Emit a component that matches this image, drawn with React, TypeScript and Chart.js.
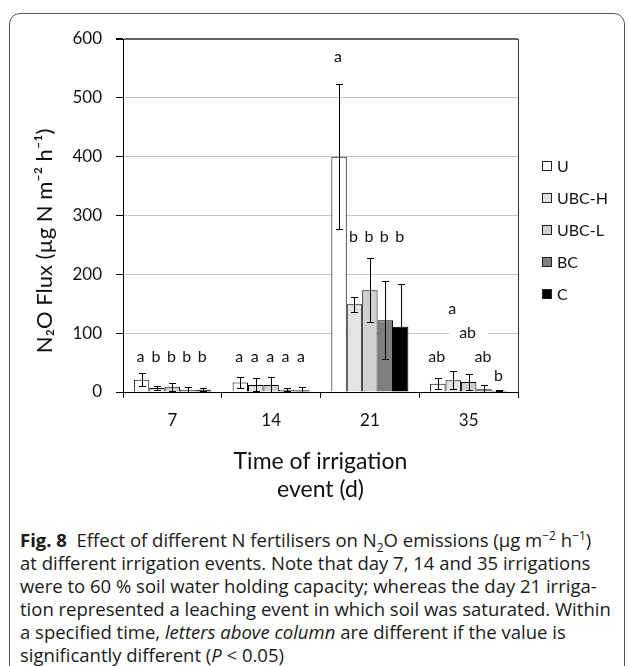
import React, { useEffect, useRef } from 'react';
import { Chart, registerables } from 'chart.js';

Chart.register(...registerables);

// ---- data ----
const days = ['7', '14', '21', '35'];
const seriesNames = ['U', 'UBC-H', 'UBC-L', 'BC', 'C'];
const seriesColors = ['#ffffff', '#e3e3e3', '#d0d0d0', '#7f7f7f', '#000000'];

const valuesU = [21, 16, 400, 14];
const valuesUBCH = [7, 12, 149, 20];
const valuesUBCL = [9, 12, 173, 17];
const valuesBC = [4, 4, 122, 4.5];
const valuesC = [4, 3, 111, 2];

const errorsU = [11, 9, 123, 9];
const errorsUBCH = [3, 11, 13, 15];
const errorsUBCL = [7, 13, 54, 14];
const errorsBC = [4.5, 2, 66, 7];
const errorsC = [2, 5, 72, 1];

const lettersU = ['a', 'a', 'a', 'ab'];
const lettersUBCH = ['b', 'a', 'b', 'a'];
const lettersUBCL = ['b', 'a', 'b', 'ab'];
const lettersBC = ['b', 'a', 'b', 'ab'];
const lettersC = ['b', 'a', 'b', 'b'];

const letterHeightsU = [59, 59, 569, 59];
const letterHeightsUBCH = [59, 59, 263, 142];
const letterHeightsUBCL = [59, 59, 263, 100];
const letterHeightsBC = [59, 59, 263, 59];
const letterHeightsC = [59, 59, 263, 27];

const yTicks = [0, 100, 200, 300, 400, 500, 600];

const allValues = [valuesU, valuesUBCH, valuesUBCL, valuesBC, valuesC];
const allErrors = [errorsU, errorsUBCH, errorsUBCL, errorsBC, errorsC];
const allLetters = [lettersU, lettersUBCH, lettersUBCL, lettersBC, lettersC];
const allLetterHeights = [letterHeightsU, letterHeightsUBCH, letterHeightsUBCL, letterHeightsBC, letterHeightsC];

const FONT = 'Lato, "Open Sans", sans-serif';

const annotationPlugin = {
  id: 'annotations',
  afterDatasetsDraw(chart: any) {
    const ctx = chart.ctx;
    const y = chart.scales.y;
    ctx.save();
    ctx.font = `16px ${FONT}`;
    ctx.textAlign = 'center';
    ctx.textBaseline = 'middle';
    const tickPixels = yTicks.map((t) => y.getPixelForValue(t));
    // white label boxes where a letter sits on a gridline
    chart.data.datasets.forEach((ds: any, i: number) => {
      const meta = chart.getDatasetMeta(i);
      meta.data.forEach((bar: any, j: number) => {
        const txt = allLetters[i][j];
        const py = y.getPixelForValue(allLetterHeights[i][j]);
        if (tickPixels.some((tp: number) => Math.abs(tp - py) < 9)) {
          const w = ctx.measureText(txt).width;
          ctx.fillStyle = '#ffffff';
          ctx.fillRect(bar.x - w / 2 - 11, py - 8, w + 22, 16);
        }
      });
    });
    // letters above columns
    ctx.fillStyle = '#111111';
    chart.data.datasets.forEach((ds: any, i: number) => {
      const meta = chart.getDatasetMeta(i);
      meta.data.forEach((bar: any, j: number) => {
        const py = y.getPixelForValue(allLetterHeights[i][j]);
        ctx.fillText(allLetters[i][j], bar.x - 1, py);
      });
    });
    // error bars
    ctx.strokeStyle = '#000000';
    ctx.lineWidth = 1;
    chart.data.datasets.forEach((ds: any, i: number) => {
      const meta = chart.getDatasetMeta(i);
      meta.data.forEach((bar: any, j: number) => {
        const v = allValues[i][j];
        const e = allErrors[i][j];
        const yt = Math.round(y.getPixelForValue(v + e)) + 0.5;
        const yb = Math.round(y.getPixelForValue(Math.max(v - e, 0))) + 0.5;
        const x = Math.round(bar.x) + 0.5;
        ctx.beginPath();
        ctx.moveTo(x, yt);
        ctx.lineTo(x, yb);
        ctx.moveTo(x - 3.5, yt);
        ctx.lineTo(x + 3.5, yt);
        ctx.moveTo(x - 3.5, yb);
        ctx.lineTo(x + 3.5, yb);
        ctx.stroke();
      });
    });
    ctx.restore();
  },
  afterDraw(chart: any) {
    const ctx = chart.ctx;
    const area = chart.chartArea;
    ctx.save();
    // right frame line
    ctx.strokeStyle = '#333333';
    ctx.lineWidth = 1;
    ctx.beginPath();
    ctx.moveTo(Math.round(area.right) + 0.5, area.top);
    ctx.lineTo(Math.round(area.right) + 0.5, area.bottom);
    ctx.stroke();
    // legend
    ctx.font = `16px ${FONT}`;
    ctx.textAlign = 'left';
    ctx.textBaseline = 'middle';
    chart.data.datasets.forEach((ds: any, i: number) => {
      const cy = area.top + 127 + i * 32;
      const bx = Math.round(area.right) + 24;
      ctx.fillStyle = ds.backgroundColor;
      ctx.fillRect(bx, Math.round(cy) - 5, 10, 10);
      ctx.strokeStyle = '#222222';
      ctx.strokeRect(bx + 0.5, Math.round(cy) - 4.5, 9, 9);
      ctx.fillStyle = '#111111';
      ctx.fillText(ds.label, bx + 15, cy + 1);
    });
    ctx.restore();
  },
};

function BarChart() {
  const ref = useRef<HTMLCanvasElement>(null);
  useEffect(() => {
    if (!ref.current) return;
    const chart = new Chart(ref.current, {
      type: 'bar',
      data: {
        labels: days,
        datasets: seriesNames.map((name, i) => ({
          label: name,
          data: allValues[i],
          backgroundColor: seriesColors[i],
          borderColor: '#000000',
          borderWidth: 1,
          categoryPercentage: 0.78,
          barPercentage: 1,
        })),
      },
      options: {
        responsive: false,
        animation: false,
        layout: { padding: { left: 30, right: 111, top: 39, bottom: 0 } },
        plugins: {
          legend: { display: false },
          tooltip: { enabled: false },
        },
        scales: {
          x: {
            grid: { display: true, drawOnChartArea: false, drawTicks: true, tickLength: 6, color: '#000000', offset: true },
            border: { display: true, color: '#000000', width: 1 },
            ticks: { color: '#111111', font: { family: FONT, size: 17 }, padding: 12 },
            title: {
              display: true,
              text: ['Time of irrigation', 'event (d)'],
              color: '#111111',
              font: { family: FONT, size: 23, lineHeight: 1.22 },
              padding: { top: 0, bottom: 1 },
            },
            afterFit(scale: any) {
              scale.height = 113;
            },
          },
          y: {
            min: 0,
            max: 600,
            afterBuildTicks(scale: any) {
              scale.ticks = yTicks.map((v) => ({ value: v }));
            },
            grid: {
              color: (c: any) => (c.tick && c.tick.value === 600 ? '#666666' : c.tick && c.tick.value === 0 ? '#000000' : '#c4c4c4'),
              lineWidth: (c: any) => (c.tick && c.tick.value === 600 ? 2 : 1),
              tickColor: '#000000',
              tickLength: 7,
            },
            border: { display: true, color: '#000000', width: 1 },
            ticks: { color: '#111111', font: { family: FONT, size: 17 }, padding: 14 },
            title: {
              display: true,
              text: 'N\u2082O Flux (\u00b5g N m\u207b\u00b2 h\u207b\u00b9)         ',
              color: '#111111',
              font: { family: FONT, size: 22, lineHeight: 1.2 },
              padding: { top: 2, bottom: 0 },
            },
            afterFit(scale: any) {
              scale.width = 93;
            },
          },
        },
      },
      plugins: [annotationPlugin],
    } as any);
    return () => chart.destroy();
  }, []);
  return <canvas ref={ref} width={629} height={505} style={{ position: 'absolute', left: 0, top: 0, width: 629, height: 505 }} />;
}

const supStyle: React.CSSProperties = { fontSize: 12, lineHeight: 0 };

const captionStyle: React.CSSProperties = {
  position: 'absolute',
  left: 20,
  top: 528,
  fontFamily: '"Open Sans", "Noto Sans", sans-serif',
  fontSize: 18.5,
  lineHeight: '23px',
  color: '#1a1a1a',
  whiteSpace: 'nowrap',
};

export default function App() {
  return (
    <div style={{ position: 'absolute', left: 0, top: 0, width: 629, height: 666, overflow: 'hidden', background: '#ffffff' }}>
      <div
        style={{
          position: 'absolute',
          left: 9,
          top: 13,
          width: 616,
          height: 720,
          border: '1.5px solid #555555',
          borderRadius: '11px 11px 0 0',
          boxSizing: 'border-box',
        }}
      />
      <BarChart />
      <div style={captionStyle}>
        <div>
          <b>Fig. 8</b>&nbsp; Effect of different N fertilisers on N<sub style={supStyle}>2</sub>O emissions (µg m
          <sup style={supStyle}>−2</sup> h<sup style={supStyle}>−1</sup>)
        </div>
        <div>at different irrigation events. Note that day 7, 14 and 35 irrigations</div>
        <div>were to 60 % soil water holding capacity; whereas the day 21 irriga-</div>
        <div>tion represented a leaching event in which soil was saturated. Within</div>
        <div>
          a specified time, <i>letters above column</i> are different if the value is
        </div>
        <div>
          significantly different (<i>P</i> &lt; 0.05)
        </div>
      </div>
    </div>
  );
}
